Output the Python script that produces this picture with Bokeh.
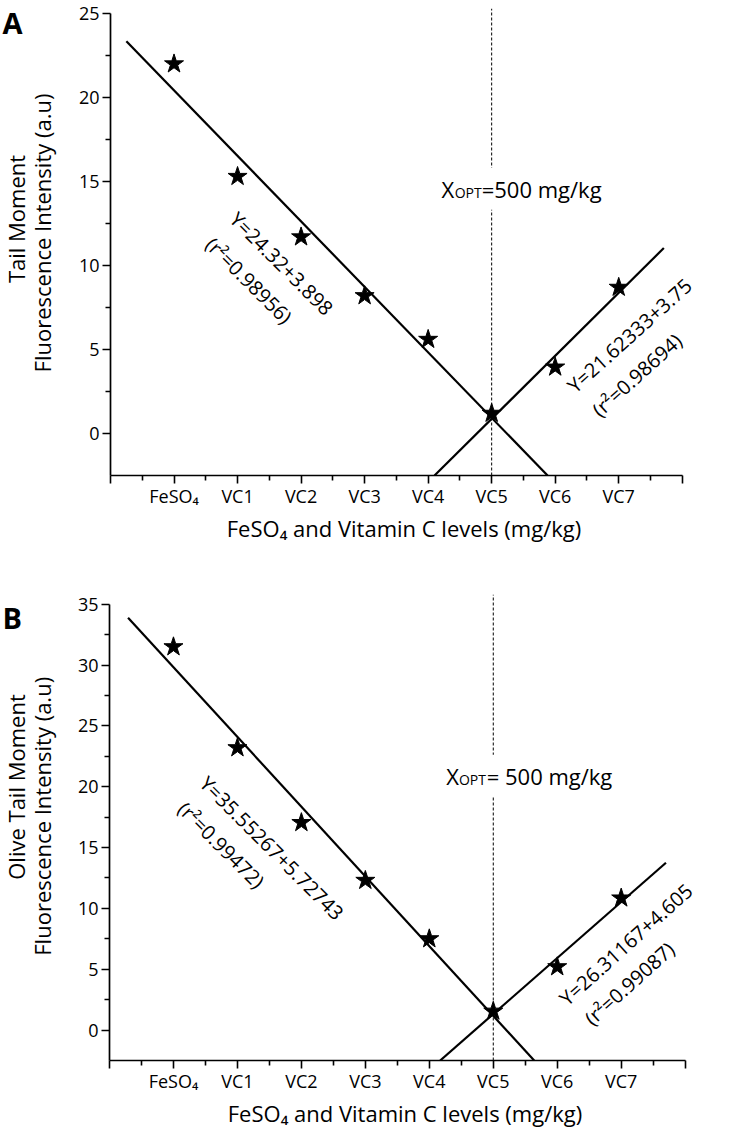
from bokeh.plotting import figure
from bokeh.layouts import column, row
from bokeh.models import FixedTicker, Label, Range1d
from bokeh.embed import file_html
from bokeh.resources import INLINE

# ---------------- data ----------------
categories = ["FeSO\u2084", "VC1", "VC2", "VC3", "VC4", "VC5", "VC6", "VC7"]
cat_pos = [1, 2, 3, 4, 5, 6, 7, 8]

tail_moment = [22.0, 15.3, 11.7, 8.2, 5.6, 1.2, 3.95, 8.7]
olive_tail_moment = [31.5, 23.2, 17.05, 12.3, 7.5, 1.55, 5.2, 10.85]

# fitted regression lines (end points)
a_desc_x = [0.25, 6.88]
a_desc_y = [23.35, -2.5]
a_asc_x = [5.10, 8.71]
a_asc_y = [-2.5, 11.04]
b_desc_x = [0.29, 6.64]
b_desc_y = [33.89, -2.5]
b_asc_x = [5.17, 8.70]
b_asc_y = [-2.5, 13.75]

xopt = 6  # VC5 = 500 mg/kg

eq_a = ["Y=24.32+3.898", "(r\u00b2=0.98956)", "Y=21.62333+3.75", "(r\u00b2=0.98694)"]
eq_b = ["Y=35.55267+5.72743", "(r\u00b2=0.99472)", "Y=26.31167+4.605", "(r\u00b2=0.99087)"]

y_ticks_a = [0, 5, 10, 15, 20, 25]
y_ticks_b = [0, 5, 10, 15, 20, 25, 30, 35]

FONT = "Open Sans"
TOTAL_W = 715
STRIP_W = 64


def make_strip(fig_top, fig_h, letter, letter_pos, ytitles, ytitle_pos):
    s = figure(width=STRIP_W, height=fig_h, output_backend="svg", toolbar_location=None,
               title=None, frame_align=False,
               x_range=Range1d(0, STRIP_W), y_range=Range1d(0, fig_h),
               x_axis_type=None, y_axis_type=None,
               min_border_left=0, min_border_right=0, min_border_top=0, min_border_bottom=0)
    s.xgrid.visible = False
    s.ygrid.visible = False
    s.outline_line_color = None

    def sy(py):
        return fig_top + fig_h - py

    s.add_layout(Label(x=letter_pos[0], y=sy(letter_pos[1]), text=letter,
                       text_align="left", text_baseline="middle",
                       text_font=FONT, text_font_size="29px", text_font_style="bold",
                       text_color="black"))
    for txt, (px, py) in zip(ytitles, ytitle_pos):
        s.add_layout(Label(x=px, y=sy(py), text=txt, angle=90, angle_units="deg",
                           text_align="center", text_baseline="middle",
                           text_font=FONT, text_font_size="22px", text_color="black"))
    return s


def make_panel(fig_top, fig_h, fr_left, fr_top, fr_bottom, ppx, y0, y1, ytop_axis,
               ref_map, yticks, values, desc_x, desc_y, asc_x, asc_y, eqs, eq_pos,
               xopt_text, xopt_pos):
    x1 = 9.24
    fig_left = STRIP_W
    fig_w = TOTAL_W - STRIP_W
    fr_w = int(round(x1 * ppx))
    fr_h = fr_bottom - fr_top
    p = figure(width=fig_w, height=fig_h, output_backend="svg", toolbar_location=None,
               title=None, frame_align=False,
               x_range=Range1d(0, x1), y_range=Range1d(y0, y1),
               min_border_left=fr_left - fig_left,
               min_border_right=fig_w - (fr_left - fig_left) - fr_w,
               min_border_top=fr_top - fig_top,
               min_border_bottom=fig_h - (fr_top - fig_top) - fr_h)
    p.xgrid.visible = False
    p.ygrid.visible = False
    p.outline_line_color = None
    p.background_fill_color = "white"

    rx0, rpx, ry0, rpy = ref_map  # reference pixel mapping (x origin, px/unit, y of 0, px/unit)

    def dx(px):
        return (px - rx0) / rpx

    def dy(py):
        return (ry0 - py) / rpy

    # axes
    p.xaxis.ticker = FixedTicker(ticks=list(range(10)), minor_ticks=[i + 0.5 for i in range(9)])
    ov = {0: "", 9: ""}
    for c, lab in zip(cat_pos, categories):
        ov[c] = lab
    p.xaxis.major_label_overrides = ov
    p.xaxis.bounds = (0, 9)
    p.yaxis.ticker = FixedTicker(ticks=yticks, minor_ticks=[t + 2.5 for t in yticks[:-1]])
    p.yaxis.bounds = (y0, ytop_axis)
    for ax in (p.xaxis[0], p.yaxis[0]):
        ax.axis_line_width = 1.7
        ax.axis_line_color = "black"
        ax.major_tick_line_width = 1.6
        ax.minor_tick_line_width = 1.6
        ax.major_tick_line_color = "black"
        ax.minor_tick_line_color = "black"
        ax.major_tick_out = 8
        ax.major_tick_in = 0
        ax.minor_tick_out = 5
        ax.minor_tick_in = 0
        ax.major_label_text_font = FONT
        ax.major_label_text_font_size = "18px"
        ax.major_label_text_color = "black"
    p.xaxis.major_label_standoff = 0
    p.yaxis.major_label_standoff = 3
    p.xaxis.axis_label = "FeSO\u2084 and Vitamin C levels (mg/kg)"
    p.xaxis.axis_label_text_font = FONT
    p.xaxis.axis_label_text_font_size = "22px"
    p.xaxis.axis_label_text_font_style = "normal"
    p.xaxis.axis_label_text_color = "black"
    p.xaxis.axis_label_standoff = 2

    # optimum dashed line
    p.line([xopt, xopt], [y0, y1], line_color="black", line_width=1, line_dash="3 2")

    # fit lines
    p.line(desc_x, desc_y, line_color="black", line_width=2.2)
    p.line(asc_x, asc_y, line_color="black", line_width=2.2)

    # points
    p.scatter(cat_pos, values, marker="star", size=20, fill_color="black",
              line_color="black")

    # equations
    for txt, (px, py, ang) in zip(eqs, eq_pos):
        p.add_layout(Label(x=dx(px), y=dy(py), text=txt, angle=ang, angle_units="deg",
                           text_align="center", text_baseline="middle",
                           text_font=FONT, text_font_size="20px", text_color="black"))

    # X_OPT label
    (x_right, x_base, opt_right, opt_base, main_left, main_base) = xopt_pos
    pad = 6
    p.add_layout(Label(x=dx(main_left - pad), y=dy(main_base), text=xopt_text,
                       text_align="left", text_baseline="alphabetic",
                       text_font=FONT, text_font_size="22px", text_color="black",
                       background_fill_color="white", padding=pad))
    p.add_layout(Label(x=dx(opt_right), y=dy(opt_base), text="OPT",
                       text_align="right", text_baseline="alphabetic",
                       text_font=FONT, text_font_size="14px", text_color="black",
                       background_fill_color="white"))
    p.add_layout(Label(x=dx(x_right), y=dy(x_base), text="X",
                       text_align="right", text_baseline="alphabetic",
                       text_font=FONT, text_font_size="22px", text_color="black"))
    return p


# ---------------- panel A ----------------
A_TOP, A_H = 0, 548
sA = make_strip(A_TOP, A_H, "A", (2, 22),
                ["Tail Moment", "Fluorescence Intensity (a.u)"],
                [(15, 218.5), (41, 232.5)])
pA = make_panel(fig_top=A_TOP, fig_h=A_H, fr_left=110, fr_top=8, fr_bottom=475, ppx=63.5,
                y0=-2.5, y1=25.3, ytop_axis=25, ref_map=(110, 63.5, 433, 16.8),
                yticks=y_ticks_a, values=tail_moment,
                desc_x=a_desc_x, desc_y=a_desc_y, asc_x=a_asc_x, asc_y=a_asc_y, eqs=eq_a,
                eq_pos=[(281, 263, -45), (248.3, 280, -45), (628.7, 335, 42), (636.2, 374.5, 42)],
                xopt_text="=500 mg/kg",
                xopt_pos=(453.5, 188.3, 481, 191.7, 481, 188.3))

# ---------------- panel B ----------------
B_TOP, B_H = 548, 583
sB = make_strip(B_TOP, B_H, "B", (2, 617),
                ["Olive Tail Moment", "Fluorescence Intensity (a.u)"],
                [(15, 786.5), (41, 815.8)])
pB = make_panel(fig_top=B_TOP, fig_h=B_H, fr_left=109, fr_top=594, fr_bottom=1060, ppx=64,
                y0=-2.5, y1=35.8, ytop_axis=35, ref_map=(109.3, 64, 1040, 12.36),
                yticks=y_ticks_b, values=olive_tail_moment,
                desc_x=b_desc_x, desc_y=b_desc_y, asc_x=b_asc_x, asc_y=b_asc_y, eqs=eq_b,
                eq_pos=[(271.7, 855, -45), (221.2, 852, -45), (626, 953, 42), (629.5, 992.8, 42)],
                xopt_text="= 500 mg/kg",
                xopt_pos=(459, 781.7, 486, 785, 486.7, 781.7))

layout = column(row(sA, pA, spacing=0), row(sB, pB, spacing=0), spacing=0)
open("out.html", "w").write(file_html(layout, INLINE))
